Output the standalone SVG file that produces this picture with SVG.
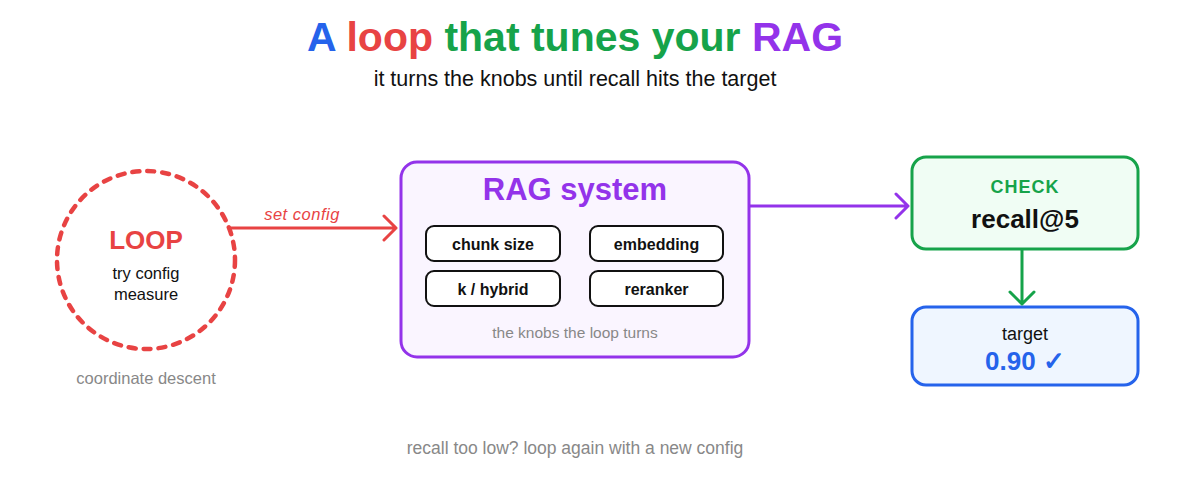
<svg xmlns="http://www.w3.org/2000/svg" width="1199" height="480" viewBox="0 0 1199 480">
<style>
text{font-family:"Liberation Sans",Arial,sans-serif;text-anchor:middle}
.knob rect{fill:#fff;stroke:#111;stroke-width:2}
.knob text{font-size:16px;font-weight:bold;fill:#111}
.grey{fill:#888}
.arrow{fill:none;stroke-width:3;stroke-linecap:round;stroke-linejoin:round}
</style>
<rect width="1199" height="480" fill="#fff"/>
<text x="575" y="51" font-size="41" font-weight="bold"><tspan fill="#2563eb">A</tspan> <tspan fill="#e84343">loop</tspan> <tspan fill="#16a34a">that tunes your</tspan> <tspan fill="#9333ea">RAG</tspan></text>
<text x="575" y="86" font-size="21.5" fill="#111">it turns the knobs until recall hits the target</text>

<g id="loop">
<circle cx="146" cy="260" r="89" fill="none" stroke="#e84343" stroke-width="4.5" stroke-dasharray="7 8" stroke-linecap="round"/>
<text x="146" y="249" font-size="26" font-weight="bold" fill="#e84343">LOOP</text>
<text x="146" y="279" font-size="16.5" fill="#111">try config</text>
<text x="146" y="300" font-size="16.5" fill="#111">measure</text>
<text x="146" y="384" font-size="16.5" class="grey">coordinate descent</text>
</g>

<g id="rag">
<rect x="401" y="162" width="348" height="195" rx="16" fill="#faf5ff" stroke="#9333ea" stroke-width="3"/>
<text x="575" y="200" font-size="31" font-weight="bold" fill="#9333ea">RAG system</text>
<g class="knob" id="knob-chunk"><rect x="426" y="226" width="134" height="35" rx="8"/><text x="493" y="249.5">chunk size</text></g>
<g class="knob" id="knob-embedding"><rect x="590" y="226" width="133" height="35" rx="8"/><text x="656.5" y="249.5">embedding</text></g>
<g class="knob" id="knob-k"><rect x="426" y="271" width="134" height="35" rx="8"/><text x="493" y="294.5">k / hybrid</text></g>
<g class="knob" id="knob-reranker"><rect x="590" y="271" width="133" height="35" rx="8"/><text x="656.5" y="294.5">reranker</text></g>
<text x="575" y="338" font-size="15.5" class="grey">the knobs the loop turns</text>
</g>

<g id="check">
<rect x="912" y="157" width="226" height="92" rx="14" fill="#f0fdf4" stroke="#16a34a" stroke-width="3"/>
<text x="1025" y="193" font-size="18" font-weight="bold" fill="#16a34a" letter-spacing="1">CHECK</text>
<text x="1025" y="228" font-size="26" font-weight="bold" fill="#111">recall@5</text>
</g>

<g id="target">
<rect x="912" y="307" width="226" height="78" rx="14" fill="#eff6ff" stroke="#2563eb" stroke-width="3"/>
<text x="1025" y="340" font-size="18" fill="#111">target</text>
<text x="1025" y="370" font-size="26" font-weight="bold" fill="#2563eb">0.90 ✓</text>
</g>

<g id="connectors">
<path class="arrow" stroke="#e84343" d="M231 228 H396 M384 216 L396 228 L384 240"/>
<text x="302" y="220" font-size="16.5" font-style="italic" fill="#e84343" font-family="'DejaVu Sans',sans-serif" letter-spacing="0.5">set config</text>
<path class="arrow" stroke="#9333ea" d="M750 206 H908 M896 194 L908 206 L896 218"/>
<path class="arrow" stroke="#16a34a" d="M1022 250 V304 M1010 292 L1022 304 L1034 292"/>
</g>

<text x="575" y="454" font-size="17.5" class="grey">recall too low? loop again with a new config</text>
</svg>
